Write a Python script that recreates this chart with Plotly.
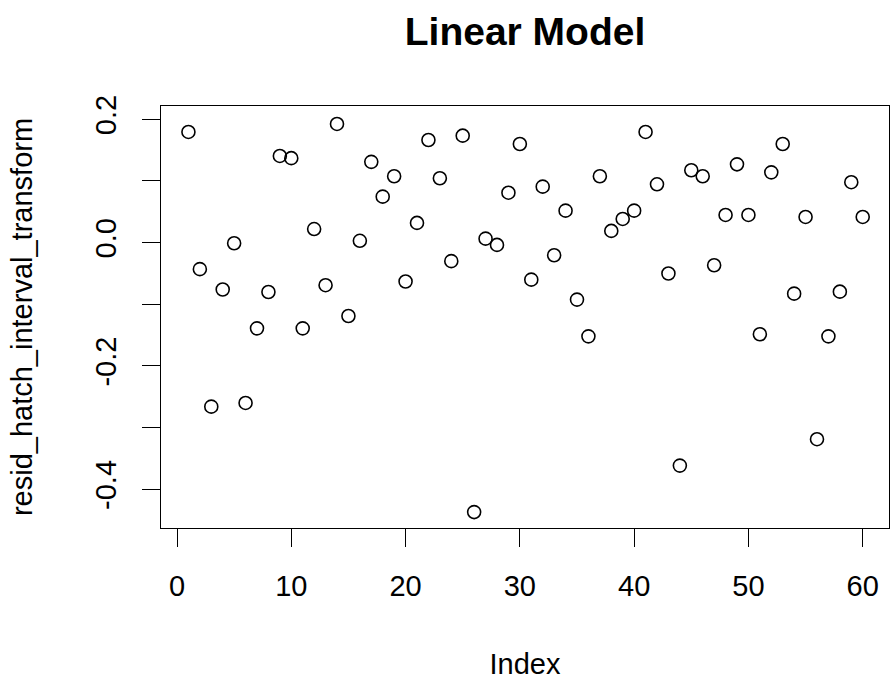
import plotly.graph_objects as go

index = list(range(1, 61))
resid = [
    0.1795, -0.043, -0.266, -0.076, -0.001, -0.260, -0.139, -0.080, 0.1406, 0.137,
    -0.139, 0.022, -0.069, 0.1925, -0.119, 0.003, 0.131, 0.0746, 0.1077, -0.063,
    0.032, 0.1665, 0.1044, -0.030, 0.1735, -0.437, 0.0065, -0.0037, 0.081, 0.160,
    -0.060, 0.0908, -0.0204, 0.0519, -0.0924, -0.152, 0.1077, 0.019, 0.0384, 0.0519,
    0.1795, 0.0946, -0.050, -0.3616, 0.1174, 0.1077, -0.0367, 0.0449, 0.127, 0.0449,
    -0.1486, 0.114, 0.160, -0.0827, 0.0417, -0.3188, -0.152, -0.0795, 0.098, 0.0417,
]

x_ticks = [0, 10, 20, 30, 40, 50, 60]
y_ticks = [-0.4, -0.3, -0.2, -0.1, 0.0, 0.1, 0.2]
y_ticktext = ["-0.4", "", "-0.2", "", "0.0", "", "0.2"]

FONT = "Liberation Sans, Arial, sans-serif"

fig = go.Figure()
fig.add_trace(go.Scatter(
    x=index, y=resid, mode="markers",
    marker=dict(symbol="circle-open", size=13, color="black",
                line=dict(color="black", width=1.6)),
    showlegend=False,
))

fig.update_layout(
    width=891, height=686,
    margin=dict(l=161, r=2, t=106, b=158),
    paper_bgcolor="white", plot_bgcolor="white",
    font=dict(family=FONT, color="black", size=29),
    title=dict(text="<b>Linear Model</b>", x=0.5, xref="paper", xanchor="center",
               y=1 - 31 / 686, yref="container", yanchor="middle",
               font=dict(family=FONT, size=39, color="black")),
)

fig.update_xaxes(
    range=[-1.4, 62.3], tickvals=x_ticks, ticktext=[str(v) for v in x_ticks],
    showgrid=False, zeroline=False,
    showline=True, mirror=True, linecolor="black", linewidth=1,
    ticks="outside", ticklen=18, tickwidth=1, tickcolor="black",
    ticklabelstandoff=14,
    tickfont=dict(family=FONT, size=29, color="black"),
    title=dict(text="Index", standoff=52, font=dict(family=FONT, size=29, color="black")),
)
fig.update_yaxes(
    range=[-0.4628, 0.2216], tickvals=y_ticks, ticktext=y_ticktext,
    tickangle=-90,
    showgrid=False, zeroline=False,
    showline=True, mirror=True, linecolor="black", linewidth=1,
    ticks="outside", ticklen=18, tickwidth=1, tickcolor="black",
    ticklabelstandoff=14,
    tickfont=dict(family=FONT, size=29, color="black"),
    title=dict(text="resid_hatch_interval_transform", standoff=49,
               font=dict(family=FONT, size=29, color="black")),
)

fig.write_html("out.html")
